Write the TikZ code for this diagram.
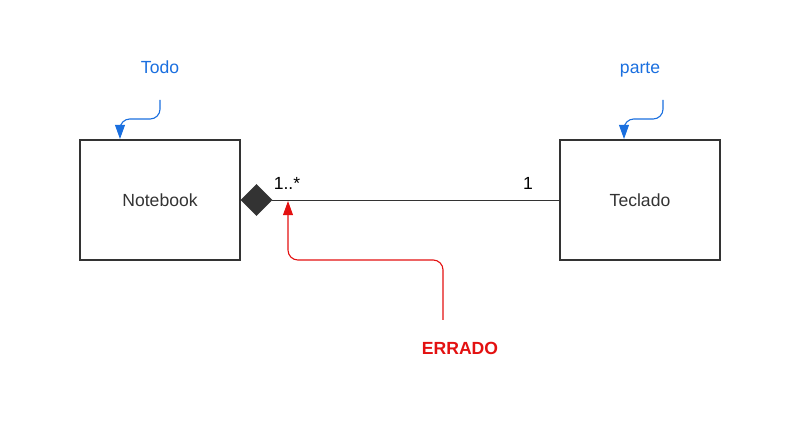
\documentclass[tikz,border=0pt]{standalone}
\usepackage{fontspec}
\setmainfont{Liberation Sans}
\usetikzlibrary{shapes.geometric,positioning,arrows.meta}

\definecolor{boxgray}{HTML}{333333}
\definecolor{noteblue}{HTML}{1A6FDF}
\definecolor{errred}{HTML}{E31111}

\begin{document}
\begin{tikzpicture}[
    x=0.025cm, y=0.025cm,
    font=\fontsize{12.5}{15}\selectfont,
    classbox/.style={draw=boxgray, line width=1.4pt, minimum width=4cm, minimum height=3cm, inner sep=0pt, text=boxgray},
    composition/.style={diamond, fill=boxgray, draw=boxgray, minimum size=0.78cm, inner sep=0pt},
    assoc/.style={draw=boxgray, line width=0.7pt},
    mult/.style={text=black, inner sep=1pt},
    note/.style={text=noteblue, anchor=base},
    note_arrow/.style={draw=noteblue, line width=0.8pt, rounded corners=7pt, -{Triangle[length=10pt, width=7pt]}},
    error_arrow/.style={draw=errred, line width=0.8pt, rounded corners=7pt, -{Triangle[length=10pt, width=7pt]}}
]
    \useasboundingbox (0,0) rectangle (800,420);

    % Classes
    \node[classbox] (notebook) at (160,220) {Notebook};
    \node[classbox] (teclado) at (640,220) {Teclado};

    % Composition: Notebook (whole) -- Teclado (part)
    \node[composition] (comp) at (256.5,220) {};
    \draw[assoc] (comp.east) -- (teclado.west);

    \node[mult] (mult_whole) at (287,237) {1..*};
    \node[mult] (mult_part) at (528,237) {1};

    % Notes
    \node[note] (todo) at (160,346) {Todo};
    \node[note] (parte) at (640,346) {parte};
    \coordinate (todo_from) at (160,320);
    \coordinate (parte_from) at (663,320);
    \draw[note_arrow] (todo_from) -- ++(0,-19) -| ([xshift=-1cm]notebook.north);
    \draw[note_arrow] (parte_from) -- ++(0,-19) -| ([xshift=-0.4cm]teclado.north);

    % Error marker
    \node[text=errred, font=\fontsize{12.5}{15}\selectfont\bfseries] (errado) at (460,72) {ERRADO};
    \coordinate (err_from) at (443,100);
    \coordinate (err_to) at (288,219);
    \draw[error_arrow] (err_from) |- (365,160) -| (err_to);
\end{tikzpicture}
\end{document}
